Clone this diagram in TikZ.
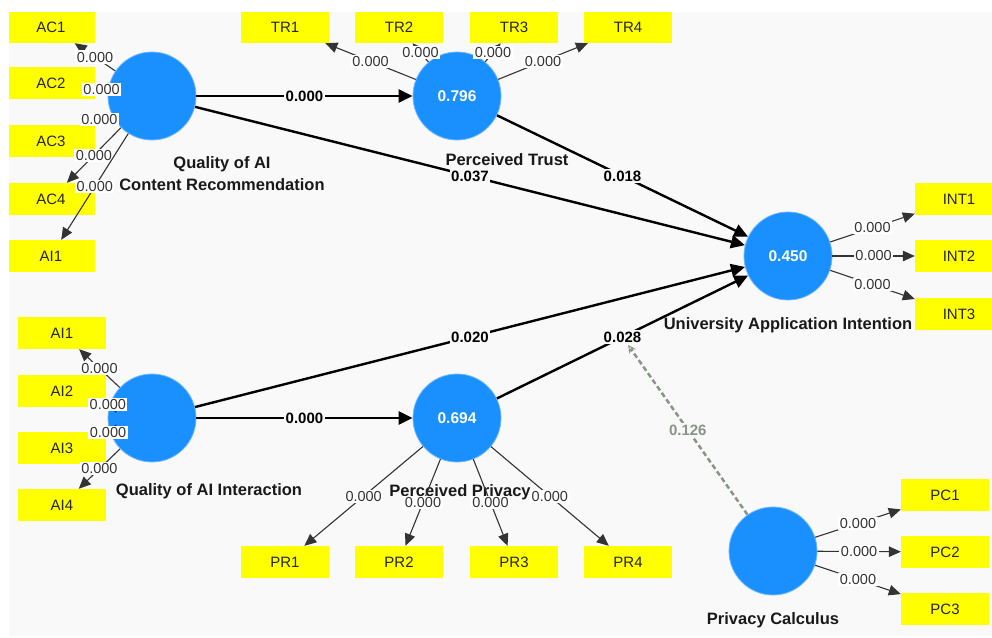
\documentclass[tikz,border=0pt]{standalone}
\usepackage{fontspec}
\setmainfont{Liberation Sans}
\usetikzlibrary{shapes,arrows.meta}
\definecolor{panel}{RGB}{249,249,249}
\definecolor{lvblue}{RGB}{26,144,255}
\definecolor{lvrim}{RGB}{110,184,255}
\definecolor{indyel}{RGB}{255,255,0}
\definecolor{modgray}{RGB}{135,150,135}
\tikzstyle{lv}=[circle,fill=lvblue,draw=lvrim,line width=.8pt,minimum size=88pt,inner sep=0pt,text=white,font=\fontsize{15.5}{18}\selectfont\bfseries]
\tikzstyle{ind}=[rectangle,fill=indyel,minimum width=88pt,minimum height=32pt,inner sep=0pt,text=black!85,font=\fontsize{15}{17}\selectfont]
\tikzstyle{ttl}=[align=center,text=black!90,font=\fontsize{16.5}{22}\selectfont\bfseries]
\tikzstyle{strc}=[line width=2.4pt,-{Triangle[length=14pt,width=13pt]}]
\tikzstyle{ld}=[line width=1.1pt,draw=black!80,-{Triangle[length=12pt,width=10.5pt]}]
\tikzstyle{mod}=[line width=2.5pt,draw=modgray,dash pattern=on 5pt off 3pt,-{Stealth[open,length=8pt,width=8pt,line width=1pt]}]
\tikzstyle{plab}=[fill=panel,inner sep=1.5pt,font=\fontsize{15}{17}\selectfont\bfseries]
\tikzstyle{llab}=[fill=white,inner sep=1.5pt,text=black!80,font=\fontsize{14.5}{17}\selectfont]
\tikzstyle{mlab}=[fill=panel,inner sep=1.5pt,text=modgray,font=\fontsize{15}{17}\selectfont\bfseries]

\begin{document}
\begin{tikzpicture}[x=1pt,y=-1pt]
\useasboundingbox (0,0) rectangle (992,637);
\clip (9,12) rectangle (992,636);
\fill[panel] (9,12) rectangle (992,636);
% latent variables
\node[lv] (qacr) at (152,96) {};
\node[lv] (trust) at (457,96) {0.796};
\node[lv] (uai) at (788,256) {0.450};
\node[lv] (qai) at (152,418) {};
\node[lv] (priv) at (457,418) {0.694};
\node[lv] (pc) at (773,551) {};
\node[ttl] (qacr-t) at (222,174) {Quality of AI\\Content Recommendation};
\node[ttl] (trust-t) at (507,160) {Perceived Trust};
\node[ttl] (uai-t) at (788,325) {University Application Intention};
\node[ttl] (qai-t) at (209,491) {Quality of AI Interaction};
\node[ttl] (priv-t) at (460,492) {Perceived Privacy};
\node[ttl] (pc-t) at (773,620) {Privacy Calculus};
% indicators
\node[ind] (ac1) at (51,27) {AC1}; \node[ind] (ac2) at (51,83) {AC2}; \node[ind] (ac3) at (51,141) {AC3}; \node[ind] (ac4) at (51,199) {AC4}; \node[ind] (ac-ai1) at (51,256) {AI1};
\node[ind] (tr1) at (285,27) {TR1}; \node[ind] (tr2) at (399,27) {TR2}; \node[ind] (tr3) at (514,27) {TR3}; \node[ind] (tr4) at (628,27) {TR4};
\node[ind] (int1) at (959,199) {INT1}; \node[ind] (int2) at (959,256) {INT2}; \node[ind] (int3) at (959,314) {INT3};
\node[ind] (ai1) at (62,333) {AI1}; \node[ind] (ai2) at (62,391) {AI2}; \node[ind] (ai3) at (62,448) {AI3}; \node[ind] (ai4) at (62,505) {AI4};
\node[ind] (pr1) at (285,562) {PR1}; \node[ind] (pr2) at (399,562) {PR2}; \node[ind] (pr3) at (514,562) {PR3}; \node[ind] (pr4) at (628,562) {PR4};
\node[ind] (pc1) at (945,495) {PC1}; \node[ind] (pc2) at (945,552) {PC2}; \node[ind] (pc3) at (945,609) {PC3};
% outer loadings
\draw[ld] (qacr) -- node[llab] {0.000} (ac1);
\draw[ld] (qacr) -- node[llab] {0.000} (ac2);
\draw[ld] (qacr) -- node[llab] {0.000} (ac3);
\draw[ld] (qacr) -- node[llab] {0.000} (ac4);
\draw[ld] (qacr) -- node[llab] {0.000} (ac-ai1);
\draw[ld] (trust) -- node[llab] {0.000} (tr1);
\draw[ld] (trust) -- node[llab] {0.000} (tr2);
\draw[ld] (trust) -- node[llab] {0.000} (tr3);
\draw[ld] (trust) -- node[llab] {0.000} (tr4);
\draw[ld] (uai) -- node[llab] {0.000} (int1);
\draw[ld] (uai) -- node[llab] {0.000} (int2);
\draw[ld] (uai) -- node[llab] {0.000} (int3);
\draw[ld] (qai) -- node[llab] {0.000} (ai1);
\draw[ld] (qai) -- node[llab] {0.000} (ai2);
\draw[ld] (qai) -- node[llab] {0.000} (ai3);
\draw[ld] (qai) -- node[llab] {0.000} (ai4);
\draw[ld] (priv) -- node[llab] {0.000} (pr1);
\draw[ld] (priv) -- node[llab] {0.000} (pr2);
\draw[ld] (priv) -- node[llab] {0.000} (pr3);
\draw[ld] (priv) -- node[llab] {0.000} (pr4);
\draw[ld] (pc) -- node[llab] {0.000} (pc1);
\draw[ld] (pc) -- node[llab] {0.000} (pc2);
\draw[ld] (pc) -- node[llab] {0.000} (pc3);
% structural paths
\draw[strc] (qacr) -- node[plab] {0.000} (trust);
\draw[strc] (qacr) -- node[plab] {0.037} (uai);
\draw[strc] (trust) -- node[plab] {0.018} (uai);
\draw[strc] (qai) -- node[plab] {0.020} (uai);
\draw[strc] (priv) -- node[plab] (l028) {0.028} (uai);
\draw[strc] (qai) -- node[plab] {0.000} (priv);
\draw[mod] (pc) -- node[mlab] {0.126} (l028);
\end{tikzpicture}
\end{document}
